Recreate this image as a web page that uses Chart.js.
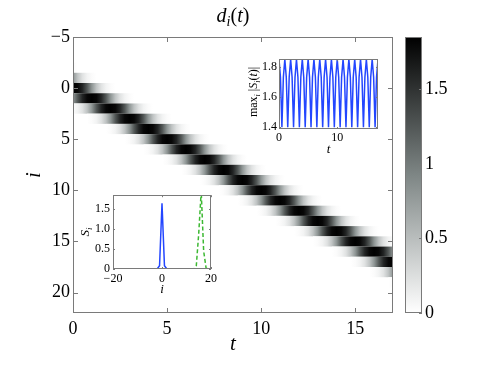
<!DOCTYPE html>
<html>
<head>
<meta charset="utf-8">
<script src="https://cdn.jsdelivr.net/npm/chart.js@4/dist/chart.umd.min.js"></script>
<style>
  html, body { margin: 0; padding: 0; background: #fff; }
  #wrap { position: relative; width: 491px; height: 369px; overflow: hidden; }
  #wrap canvas { position: absolute; display: block; }
</style>
</head>
<body>
<div id="wrap">
  <canvas id="main" width="491" height="369" style="left:0;top:0"></canvas>
  <canvas id="cbar" width="96" height="369" style="left:395px;top:0"></canvas>
  <canvas id="insTop" width="145" height="110" style="left:240px;top:50px"></canvas>
  <canvas id="insBot" width="140" height="115" style="left:80px;top:185px"></canvas>
</div>
<script>
/* ---------- data ---------- */
const CMAX = 1.85;

// main map d_i(t)
const X_TICKS = [0, 5, 10, 15];
const Y_TICKS = [-5, 0, 5, 10, 15, 20];
const SITES  = [-2, -1, 0, 1, 2, 3, 4, 5, 6, 7, 8, 9, 10, 11, 12, 13, 14, 15, 16, 17, 18, 19];
const PEAK_T = [-2, -1, 0, 1, 2, 3, 4, 5, 6, 7, 8, 9, 10, 11, 12, 13, 14, 15, 16, 17, 18, 19];
// shape of one row across the pulse (t - peak time)
const PROFILE_DT = [-2.25, -2, -1.75, -1.5, -1.25, -1, -0.75, -0.5, -0.25, 0, 0.25, 0.5, 0.75, 1, 1.25, 1.5, 1.75, 2, 2.25];
const PROFILE_D  = [0, 0.03, 0.09, 0.22, 0.45, 0.8, 1.25, 1.6, 1.8, 1.85, 1.8, 1.6, 1.25, 0.8, 0.45, 0.22, 0.09, 0.03, 0];

// colour bar
const CB_TICKS = [0, 0.5, 1, 1.5];
const CMAP_AT  = [0, 0.5, 1];
const CMAP_RGB = [[255, 255, 255], [126, 134, 133], [0, 0, 0]];

// inset: max_i |S_i(t)|
const MAX_T = [0,0.25,0.5,0.75,1,1.25,1.5,1.75,2,2.25,2.5,2.75,3,3.25,3.5,3.75,4,4.25,4.5,4.75,5,5.25,5.5,5.75,
  6,6.25,6.5,6.75,7,7.25,7.5,7.75,8,8.25,8.5,8.75,9,9.25,9.5,9.75,10,10.25,10.5,10.75,11,11.25,11.5,11.75,
  12,12.25,12.5,12.75,13,13.25,13.5,13.75,14,14.25,14.5,14.75,15,15.25,15.5,15.75,16,16.25,16.5,16.75,17];
const MAX_S = [1.85,1.73,1.40,1.73, 1.85,1.73,1.40,1.73, 1.85,1.73,1.40,1.73, 1.85,1.73,1.40,1.73,
  1.85,1.73,1.40,1.73, 1.85,1.73,1.40,1.73, 1.85,1.73,1.40,1.73, 1.85,1.73,1.40,1.73,
  1.85,1.73,1.40,1.73, 1.85,1.73,1.40,1.73, 1.85,1.73,1.40,1.73, 1.85,1.73,1.40,1.73,
  1.85,1.73,1.40,1.73, 1.85,1.73,1.40,1.73, 1.85,1.73,1.40,1.73, 1.85,1.73,1.40,1.73,
  1.85,1.73,1.40,1.73, 1.85];
const MAX_XTICKS = [0, 10];
const MAX_YTICKS = [1.4, 1.6, 1.8];

// inset: S_i at start (solid) and end (dashed)
const SITE_I = [-20,-19,-18,-17,-16,-15,-14,-13,-12,-11,-10,-9,-8,-7,-6,-5,-4,-3,-2,-1,0,
  1,2,3,4,5,6,7,8,9,10,11,12,13,14,15,16,17,18,19,20];
const S_FIRST = [0,0,0,0,0,0,0,0,0,0,0,0,0,0,0,0,0,0,0,0.08,1.65,
  0.08,0,0,0,0,0,0,0,0,0,0,0,0,0,0,0,0,0,0,0];
const S_LAST = [0,0,0,0,0,0,0,0,0,0,0,0,0,0,0,0,0,0,0,0,0,
  0,0,0,0,0,0,0,0,0,0,0,0,0,0.08,0.9,1.95,0.45,0.02,0,0];
const S_XTICKS = [-20, 0, 20];
const S_YTICKS = [0, 0.5, 1, 1.5];

/* ---------- helpers ---------- */
const SERIF = '"Liberation Serif", "Times New Roman", serif';
const FRAME = '#7a7a7a';
const BLUE = '#2346ff';
const GREEN = '#3cb832';

function shade(v) {
  let f = Math.max(0, Math.min(1, v / CMAX));
  let k = 0;
  while (k < CMAP_AT.length - 2 && f > CMAP_AT[k + 1]) k++;
  const u = (f - CMAP_AT[k]) / (CMAP_AT[k + 1] - CMAP_AT[k]);
  const c = CMAP_RGB[k].map((a, j) => Math.round(a + (CMAP_RGB[k + 1][j] - a) * u));
  return `rgb(${c[0]},${c[1]},${c[2]})`;
}

const minus = v => String(v).replace('-', '\u2212');
const fixTicks = list => s => { s.ticks = list.map(v => ({ value: v })); };

// text with italics and subscripts: parts = [[text, style]], style r/i/sr/si
function drawMath(ctx, parts, x, y, size, rot) {
  const fontOf = p => (p[1].endsWith('i') ? 'italic ' : '') +
    Math.round(p[1].startsWith('s') ? size * 0.7 : size) + 'px ' + SERIF;
  ctx.save();
  ctx.translate(x, y);
  ctx.rotate(rot || 0);
  let w = 0;
  parts.forEach(p => { ctx.font = fontOf(p); w += ctx.measureText(p[0]).width; });
  let cx = -w / 2;
  ctx.fillStyle = '#000';
  ctx.textAlign = 'left';
  ctx.textBaseline = 'alphabetic';
  parts.forEach(p => {
    ctx.font = fontOf(p);
    ctx.fillText(p[0], cx, p[1].startsWith('s') ? size * 0.22 : 0);
    cx += ctx.measureText(p[0]).width;
  });
  ctx.restore();
}

// box round the axes plus inward tick marks
function framePlugin(len, sides) {
  return {
    id: 'frame',
    afterDatasetsDraw(chart) {
      const { ctx, chartArea: a, scales } = chart;
      ctx.save();
      ctx.strokeStyle = FRAME;
      ctx.lineWidth = 1;
      ctx.strokeRect(Math.round(a.left) + 0.5, Math.round(a.top) + 0.5,
        Math.round(a.right - a.left) - 1, Math.round(a.bottom - a.top) - 1);
      ctx.beginPath();
      if (sides.includes('x')) {
        scales.x.ticks.forEach(t => {
          const p = Math.round(scales.x.getPixelForValue(t.value)) + 0.5;
          ctx.moveTo(p, a.bottom); ctx.lineTo(p, a.bottom - len);
          ctx.moveTo(p, a.top); ctx.lineTo(p, a.top + len);
        });
      }
      if (sides.includes('y')) {
        scales.y.ticks.forEach(t => {
          const p = Math.round(scales.y.getPixelForValue(t.value)) + 0.5;
          if (!sides.includes('r')) { ctx.moveTo(a.left, p); ctx.lineTo(a.left + len, p); }
          ctx.moveTo(a.right, p); ctx.lineTo(a.right - len, p);
        });
      }
      ctx.stroke();
      ctx.restore();
    }
  };
}

const whiteArea = {
  id: 'whiteArea',
  beforeDatasetsDraw(chart) {
    const { ctx, chartArea: a } = chart;
    ctx.save();
    ctx.fillStyle = '#fff';
    ctx.fillRect(a.left, a.top, a.right - a.left, a.bottom - a.top);
    ctx.restore();
  }
};

const base = {
  responsive: false,
  animation: false,
  events: [],
  plugins: { legend: { display: false }, tooltip: { enabled: false } }
};

function axis(min, max, ticks, opts) {
  return Object.assign({
    type: 'linear', min, max,
    grid: { display: false, drawTicks: false },
    border: { display: false },
    afterBuildTicks: fixTicks(ticks)
  }, opts);
}

/* ---------- main map ---------- */
const heatPlugin = {
  id: 'heat',
  beforeDatasetsDraw(chart) {
    const { ctx, chartArea: a, scales: { x, y } } = chart;
    ctx.save();
    ctx.fillStyle = '#fff';
    ctx.fillRect(a.left, a.top, a.right - a.left, a.bottom - a.top);
    ctx.beginPath();
    ctx.rect(a.left, a.top, a.right - a.left, a.bottom - a.top);
    ctx.clip();
    const d0 = PROFILE_DT[0], d1 = PROFILE_DT[PROFILE_DT.length - 1];
    SITES.forEach((s, k) => {
      const xa = x.getPixelForValue(PEAK_T[k] + d0);
      const xb = x.getPixelForValue(PEAK_T[k] + d1);
      const g = ctx.createLinearGradient(xa, 0, xb, 0);
      PROFILE_DT.forEach((dt, j) => g.addColorStop((dt - d0) / (d1 - d0), shade(PROFILE_D[j])));
      const ya = y.getPixelForValue(s - 0.5);
      const yb = y.getPixelForValue(s + 0.5);
      ctx.fillStyle = g;
      ctx.fillRect(xa, ya, xb - xa, yb - ya);
    });
    ctx.restore();
  }
};

const mainTitle = {
  id: 'mainTitle',
  afterDraw(chart) {
    drawMath(chart.ctx, [['d', 'i'], ['i', 'si'], ['(', 'r'], ['t', 'i'], [')', 'r']], 233, 22, 20, 0);
  }
};

new Chart(document.getElementById('main'), {
  type: 'scatter',
  data: { datasets: [] },
  options: Object.assign({}, base, {
    layout: { padding: { top: 37, right: 98, left: 0, bottom: 0 } },
    scales: {
      x: axis(0, 17, X_TICKS, {
        afterFit: s => { s.height = 56; },
        ticks: { font: { family: SERIF, size: 18 }, color: '#000', padding: 5, maxRotation: 0, autoSkip: false, callback: minus },
        title: { display: true, text: 't', color: '#000', font: { family: SERIF, size: 21, style: 'italic' }, padding: { top: 0, bottom: 12 } }
      }),
      y: axis(-5, 22, Y_TICKS, {
        reverse: true,
        afterFit: s => { s.width = 73; },
        ticks: { font: { family: SERIF, size: 18 }, color: '#000', padding: 3, autoSkip: false, callback: minus },
        title: { display: true, text: 'i', color: '#000', font: { family: SERIF, size: 21, style: 'italic' }, padding: { top: 22, bottom: 0 } }
      })
    }
  }),
  plugins: [heatPlugin, framePlugin(5, 'xy'), mainTitle]
});

/* ---------- colour bar ---------- */
const cbarFill = {
  id: 'cbarFill',
  beforeDatasetsDraw(chart) {
    const { ctx, chartArea: a, scales: { y } } = chart;
    const y0 = y.getPixelForValue(0), y1 = y.getPixelForValue(CMAX);
    const g = ctx.createLinearGradient(0, y0, 0, y1);
    CMAP_AT.forEach((f, j) => g.addColorStop(f, shade(f * CMAX)));
    ctx.save();
    ctx.fillStyle = g;
    ctx.fillRect(a.left, a.top, a.right - a.left, a.bottom - a.top);
    ctx.restore();
  }
};

new Chart(document.getElementById('cbar'), {
  type: 'scatter',
  data: { datasets: [] },
  options: Object.assign({}, base, {
    layout: { padding: { top: 37, right: 0, left: 10, bottom: 56 } },
    scales: {
      x: { type: 'linear', display: false, min: 0, max: 1 },
      y: axis(0, CMAX, CB_TICKS, {
        position: 'right',
        afterFit: s => { s.width = 69; },
        ticks: { font: { family: SERIF, size: 18 }, color: '#000', padding: 3, autoSkip: false, callback: minus }
      })
    }
  }),
  plugins: [cbarFill, framePlugin(3, 'yr')]
});

/* ---------- inset: max_i |S_i(t)| ---------- */
const topLabel = {
  id: 'topLabel',
  afterDraw(chart) {
    drawMath(chart.ctx, [['max', 'r'], ['i', 'si'], [' |', 'r'], ['S', 'i'], ['i', 'si'], ['(', 'r'], ['t', 'i'], [')|', 'r']],
      17, 42, 12, -Math.PI / 2);
  }
};

new Chart(document.getElementById('insTop'), {
  type: 'scatter',
  data: {
    datasets: [{
      data: MAX_T.map((t, k) => ({ x: t, y: MAX_S[k] })),
      showLine: true, borderColor: BLUE, borderWidth: 1.5, pointRadius: 0, tension: 0
    }]
  },
  options: Object.assign({}, base, {
    layout: { padding: { top: 5, right: 7, left: 0, bottom: 0 } },
    scales: {
      x: axis(0, 17, MAX_XTICKS, {
        afterFit: s => { s.height = 31; },
        ticks: { font: { family: SERIF, size: 12 }, color: '#000', padding: 2, maxRotation: 0, autoSkip: false },
        title: { display: true, text: 't', color: '#000', font: { family: SERIF, size: 13, style: 'italic' }, padding: { top: 0, bottom: 3 } }
      }),
      y: axis(1.3875, 1.85, MAX_YTICKS, {
        afterFit: s => { s.width = 39; },
        ticks: { font: { family: SERIF, size: 12 }, color: '#000', padding: 2, autoSkip: false }
      })
    }
  }),
  plugins: [whiteArea, framePlugin(2, 'xy'), topLabel]
});

/* ---------- inset: S_i ---------- */
const botLabel = {
  id: 'botLabel',
  afterDraw(chart) {
    drawMath(chart.ctx, [['S', 'i'], ['i', 'si']], 9, 47, 13, -Math.PI / 2);
  }
};

new Chart(document.getElementById('insBot'), {
  type: 'scatter',
  data: {
    datasets: [
      {
        data: SITE_I.map((i, k) => ({ x: i, y: S_LAST[k] })),
        showLine: true, borderColor: GREEN, borderWidth: 1.5, borderDash: [4, 2.5], pointRadius: 0, tension: 0
      },
      {
        data: SITE_I.map((i, k) => ({ x: i, y: S_FIRST[k] })),
        showLine: true, borderColor: BLUE, borderWidth: 1.5, pointRadius: 0, tension: 0
      }
    ]
  },
  options: Object.assign({}, base, {
    layout: { padding: { top: 10, right: 9, left: 0, bottom: 0 } },
    scales: {
      x: axis(-20, 20, S_XTICKS, {
        afterFit: s => { s.height = 31; },
        ticks: { font: { family: SERIF, size: 12 }, color: '#000', padding: 3, maxRotation: 0, autoSkip: false, callback: minus },
        title: { display: true, text: 'i', color: '#000', font: { family: SERIF, size: 13, style: 'italic' }, padding: { top: 0, bottom: 3 } }
      }),
      y: axis(0, CMAX, S_YTICKS, {
        afterFit: s => { s.width = 33; },
        ticks: { font: { family: SERIF, size: 12 }, color: '#000', padding: 3, autoSkip: false }
      })
    }
  }),
  plugins: [whiteArea, framePlugin(2, 'xy'), botLabel]
});
</script>
</body>
</html>
